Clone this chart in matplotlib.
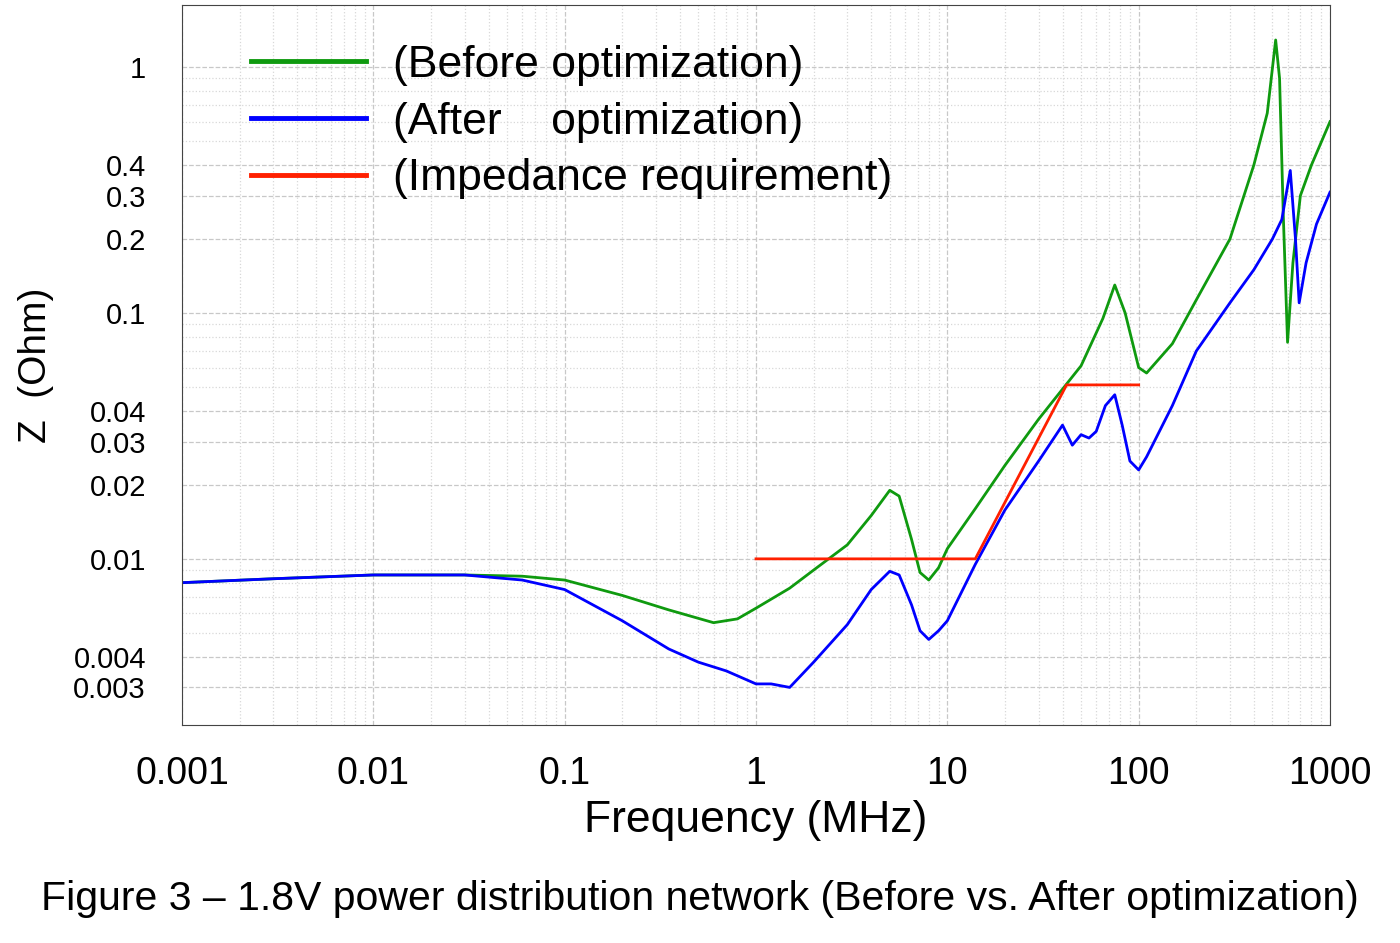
import matplotlib
matplotlib.use("Agg")
import matplotlib.pyplot as plt
from matplotlib.ticker import FixedLocator, NullFormatter, LogLocator

plt.rcParams["font.family"] = ["Liberation Sans", "DejaVu Sans"]

# Data (frequency in MHz, impedance in Ohm)
before_f = [0.001, 0.003, 0.01, 0.03, 0.06, 0.1, 0.2, 0.35, 0.6, 0.8, 1, 1.5, 2, 3, 4, 5,
            5.6, 6.5, 7.2, 8, 9, 10, 14, 20, 30, 50, 65, 75, 85, 100, 110, 150, 200, 300,
            400, 470, 520, 545, 570, 600, 640, 700, 800, 1000]
before_z = [0.008, 0.0083, 0.0086, 0.0086, 0.0085, 0.0082, 0.0071, 0.0062, 0.0055, 0.0057,
            0.0063, 0.0076, 0.009, 0.0114, 0.015, 0.019, 0.018, 0.012, 0.0088, 0.0082,
            0.0092, 0.011, 0.016, 0.024, 0.037, 0.061, 0.095, 0.13, 0.1, 0.06, 0.057,
            0.075, 0.113, 0.2, 0.4, 0.65, 1.29, 0.9, 0.25, 0.076, 0.16, 0.3, 0.4, 0.6]

after_f = [0.001, 0.003, 0.01, 0.03, 0.06, 0.1, 0.2, 0.35, 0.5, 0.7, 1, 1.2, 1.5, 2, 3, 4,
           5, 5.6, 6.5, 7.2, 8, 9, 10, 14, 20, 30, 40, 45, 50, 55, 60, 67, 75, 82, 90,
           100, 110, 150, 200, 300, 400, 500, 560, 620, 660, 690, 750, 850, 1000]
after_z = [0.008, 0.0083, 0.0086, 0.0086, 0.0082, 0.0075, 0.0056, 0.0043, 0.0038, 0.0035,
           0.0031, 0.0031, 0.003, 0.0038, 0.0054, 0.0075, 0.0089, 0.0086, 0.0065, 0.0051,
           0.0047, 0.0051, 0.0056, 0.0095, 0.0158, 0.025, 0.035, 0.029, 0.032, 0.031,
           0.033, 0.042, 0.0465, 0.035, 0.025, 0.023, 0.026, 0.042, 0.07, 0.11, 0.15,
           0.2, 0.24, 0.38, 0.2, 0.11, 0.16, 0.23, 0.31]

req_f = [1, 14, 42, 100]
req_z = [0.01, 0.01, 0.051, 0.051]

yticks = [1, 0.4, 0.3, 0.2, 0.1, 0.04, 0.03, 0.02, 0.01, 0.004, 0.003]
ytick_labels = ["1", "0.4", "0.3", "0.2", "0.1", "0.04", "0.03", "0.02", "0.01", "0.004", "0.003"]
xticks = [0.001, 0.01, 0.1, 1, 10, 100, 1000]
xtick_labels = ["0.001", "0.01", "0.1", "1", "10", "100", "1000"]

fig = plt.figure(figsize=(14, 9.43), dpi=100)
ax = fig.add_axes([0.13, 0.2312, 0.82, 0.7635])

ax.plot(before_f, before_z, color="#0f9a0f", lw=2, label="(Before optimization)")
ax.plot(after_f, after_z, color="#0000ff", lw=2, label="(After    optimization)")
ax.plot(req_f, req_z, color="#ff2000", lw=2, label="(Impedance requirement)")

ax.set_xscale("log")
ax.set_yscale("log")
ax.set_xlim(0.001, 1000)
ax.set_ylim(0.00211, 1.79)

ax.xaxis.set_major_locator(FixedLocator(xticks))
ax.set_xticklabels(xtick_labels, fontsize=27)
ax.xaxis.set_minor_locator(LogLocator(base=10, subs=range(2, 10), numticks=20))
ax.xaxis.set_minor_formatter(NullFormatter())
ax.yaxis.set_major_locator(FixedLocator(yticks))
ax.set_yticklabels(ytick_labels, fontsize=21)
ax.yaxis.set_minor_locator(LogLocator(base=10, subs=range(2, 10), numticks=20))
ax.yaxis.set_minor_formatter(NullFormatter())
ax.tick_params(axis="x", which="both", length=0, pad=22)
ax.tick_params(axis="y", which="both", length=0, pad=26)

ax.grid(True, which="major", color="#c8c8c8", ls="--", lw=0.9)
ax.grid(True, which="minor", color="#d8d8d8", ls=":", lw=0.9)
for s in ax.spines.values():
    s.set_color("#444444")

ax.set_xlabel("Frequency (MHz)", fontsize=32, labelpad=6)
ax.set_ylabel("Z  (Ohm)", fontsize=28, labelpad=14)

leg = ax.legend(loc="upper left", fontsize=32, frameon=False, handlelength=2.6,
                handletextpad=0.6, labelspacing=0.35, bbox_to_anchor=(0.025, 1.0))
for line in leg.get_lines():
    line.set_linewidth(3.5)

fig.text(0.5, 0.035, "Figure 3 – 1.8V power distribution network (Before vs. After optimization)",
         ha="center", fontsize=29.5)

fig.savefig("out.png", dpi=100)
